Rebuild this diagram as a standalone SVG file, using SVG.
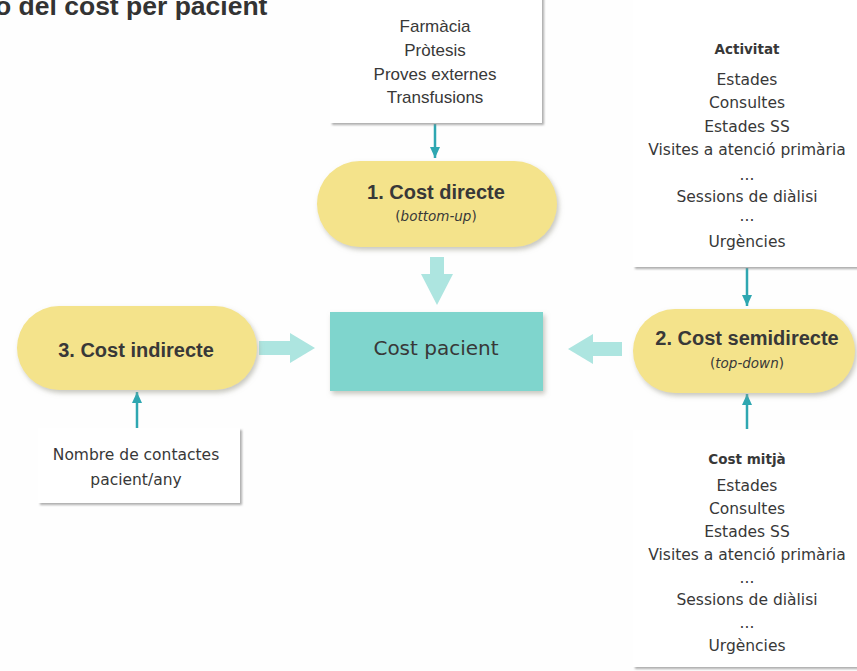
<svg xmlns="http://www.w3.org/2000/svg" width="857" height="671" viewBox="0 0 857 671">
<style>
  .bg { fill: #fefefe; }
  .box { fill: #ffffff; filter: url(#sh); }
  .pill { fill: #f4e38b; filter: url(#shp); }
  .core { fill: #7fd5cd; filter: url(#shp); }
  .t { fill: #383838; text-anchor: middle; }
  .narrow { font-family: "Liberation Sans", Arial, sans-serif; font-size: 17px; }
  .reg { font-family: "DejaVu Sans", Verdana, sans-serif; font-size: 15.5px; }
  .hdr { font-family: "DejaVu Sans", Verdana, sans-serif; font-size: 13.5px; font-weight: bold; }
  .ptitle { font-family: "Liberation Sans", Arial, sans-serif; font-size: 20px; font-weight: bold; }
  .psub { font-family: "DejaVu Sans", Verdana, sans-serif; font-size: 13.5px; }
  .title { font-family: "Liberation Sans", Arial, sans-serif; font-size: 26.5px; font-weight: bold; fill: #333333; }
  .thin { stroke: #2ea7b1; stroke-width: 2.5; fill: none; marker-end: url(#ah); }
  .big { fill: #ade5e0; }
</style>
<defs>
  <filter id="sh" x="-10%" y="-10%" width="120%" height="120%">
    <feDropShadow dx="2" dy="2" stdDeviation="1.2" flood-color="#8a8a8a" flood-opacity="0.7"/>
  </filter>
  <filter id="shp" x="-10%" y="-10%" width="125%" height="130%">
    <feDropShadow dx="2" dy="3" stdDeviation="2.5" flood-color="#9a9a8a" flood-opacity="0.55"/>
  </filter>
  <marker id="ah" markerUnits="userSpaceOnUse" markerWidth="11" markerHeight="10" refX="11" refY="5" orient="auto">
    <path d="M0,0 L11,5 L0,10 z" fill="#2ea7b1"/>
  </marker>
</defs>
<rect class="bg" x="0" y="0" width="857" height="671"/>

<text class="title" x="-5" y="15">o del cost per pacient</text>

<g id="connectors">
  <line class="thin" x1="435" y1="124" x2="435" y2="158"/>
  <line class="thin" x1="747" y1="268" x2="747" y2="306"/>
  <line class="thin" x1="747" y1="429" x2="747" y2="394"/>
  <line class="thin" x1="137" y1="428" x2="137" y2="392"/>
  <polygon class="big" points="430,257 444,257 444,274 453,274 437,305 421,274 430,274"/>
  <polygon class="big" points="259,341 290,341 290,333 315,348 290,363 290,355 259,355"/>
  <polygon class="big" points="622,342 593,342 593,334 568,349 593,364 593,356 622,356"/>
</g>

<g id="direct-items">
  <rect class="box" x="330" y="-10" width="212" height="133"/>
  <text class="t narrow" x="435" y="32">Farmàcia</text>
  <text class="t narrow" x="435" y="56">Pròtesis</text>
  <text class="t narrow" x="435" y="80">Proves externes</text>
  <text class="t narrow" x="435" y="103">Transfusions</text>
</g>

<g id="activitat">
  <rect class="box" x="633" y="-10" width="240" height="277"/>
  <text class="t hdr" x="747" y="54">Activitat</text>
  <text class="t reg" x="747" y="85">Estades</text>
  <text class="t reg" x="747" y="108">Consultes</text>
  <text class="t reg" x="747" y="132">Estades SS</text>
  <text class="t reg" x="747" y="155">Visites a atenció primària</text>
  <text class="t reg" x="747" y="180">...</text>
  <text class="t reg" x="747" y="202">Sessions de diàlisi</text>
  <text class="t reg" x="747" y="221">...</text>
  <text class="t reg" x="747" y="247">Urgències</text>
</g>

<g id="cost-mitja">
  <rect class="box" x="633" y="430" width="240" height="237"/>
  <text class="t hdr" x="747" y="464">Cost mitjà</text>
  <text class="t reg" x="747" y="491">Estades</text>
  <text class="t reg" x="747" y="514">Consultes</text>
  <text class="t reg" x="747" y="537">Estades SS</text>
  <text class="t reg" x="747" y="560">Visites a atenció primària</text>
  <text class="t reg" x="747" y="583">...</text>
  <text class="t reg" x="747" y="605">Sessions de diàlisi</text>
  <text class="t reg" x="747" y="628">...</text>
  <text class="t reg" x="747" y="651">Urgències</text>
</g>

<g id="contactes">
  <rect class="box" x="38" y="428" width="202" height="75"/>
  <text class="t reg" x="136" y="460">Nombre de contactes</text>
  <text class="t reg" x="136" y="485">pacient/any</text>
</g>

<g id="cost-directe">
  <rect class="pill" x="317" y="161" width="240" height="86" rx="43" ry="43"/>
  <text class="t ptitle" x="436" y="199">1. Cost directe</text>
  <text class="t psub" x="436" y="221">(<tspan font-style="italic">bottom-up</tspan>)</text>
</g>

<g id="cost-semidirecte">
  <rect class="pill" x="633" y="309" width="222" height="84" rx="42" ry="42"/>
  <text class="t ptitle" x="747" y="345">2. Cost semidirecte</text>
  <text class="t psub" x="747" y="368">(<tspan font-style="italic">top-down</tspan>)</text>
</g>

<g id="cost-indirecte">
  <rect class="pill" x="17" y="306" width="240" height="84" rx="42" ry="42"/>
  <text class="t ptitle" x="136" y="357">3. Cost indirecte</text>
</g>

<g id="cost-pacient">
  <rect class="core" x="330" y="312" width="213" height="79"/>
  <text class="t" x="436" y="355" style="font-family:'DejaVu Sans', Verdana, sans-serif; font-size:20px;">Cost pacient</text>
</g>
</svg>
